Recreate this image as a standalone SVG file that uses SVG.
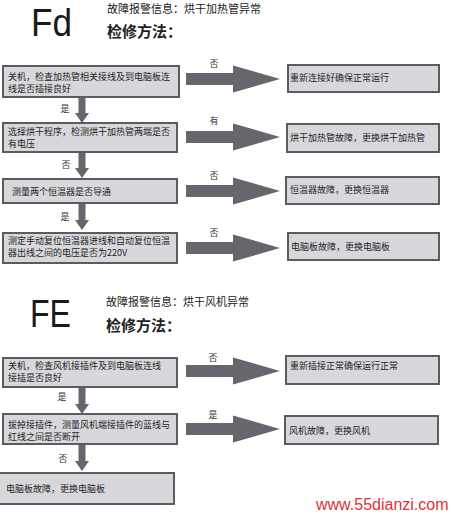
<svg xmlns="http://www.w3.org/2000/svg" width="452" height="516" viewBox="0 0 452 516">
<style>
.box{fill:#d8d8dc;stroke:#5c5c60;stroke-width:2}
.t{font-family:"Noto Sans CJK SC","Liberation Sans",sans-serif;font-size:9px;fill:#1e1e1e}
.lbl{font-family:"Noto Sans CJK SC","Liberation Sans",sans-serif;font-size:9px;fill:#333;text-anchor:middle}
.big{font-family:"Liberation Sans",Arial,sans-serif;font-size:39px;fill:#1a1a1a}
.h1{font-family:"Noto Sans CJK SC",sans-serif;font-size:11px;fill:#222}
.h2{font-family:"Noto Sans CJK SC",sans-serif;font-size:15px;font-weight:bold;fill:#222}
.arr{fill:#65676d}
.wm{font-family:"Liberation Sans",Arial,sans-serif;font-size:16px;fill:#e03232}
</style>
<defs>
<path id="ra" d="M0,-6 H47 V-13.5 L94,0 L47,13.5 V6 H0 Z"/>
<path id="da" d="M-3.5,0 H3.5 V16 H7 L0,26 L-7,16 H-3.5 Z"/>
</defs>

<g id="fd-title">
<text class="big" x="31" y="36" textLength="41" lengthAdjust="spacingAndGlyphs">Fd</text>
<text class="h1" x="107" y="13">故障报警信息：烘干加热管异常</text>
<text class="h2" x="107" y="37">检修方法：</text>
</g>

<g id="connectors">
<use href="#ra" class="arr" x="186" y="79"/>
<use href="#ra" class="arr" x="186" y="137"/>
<use href="#ra" class="arr" x="186" y="191"/>
<use href="#ra" class="arr" x="186" y="248"/>
<use href="#ra" class="arr" x="186" y="371"/>
<use href="#ra" class="arr" x="186" y="429"/>
<use href="#da" class="arr" x="82" y="97"/>
<use href="#da" class="arr" x="82" y="152"/>
<use href="#da" class="arr" x="82" y="204"/>
<use href="#da" class="arr" x="82" y="388"/>
<use href="#da" class="arr" x="82" y="445"/>
<text class="lbl" x="214" y="67">否</text>
<text class="lbl" x="214" y="124">有</text>
<text class="lbl" x="214" y="179">否</text>
<text class="lbl" x="214" y="236">否</text>
<text class="lbl" x="213" y="361">否</text>
<text class="lbl" x="213" y="418">是</text>
<text class="lbl" x="65" y="112">是</text>
<text class="lbl" x="66" y="168">否</text>
<text class="lbl" x="65" y="220">是</text>
<text class="lbl" x="62" y="400">是</text>
<text class="lbl" x="63" y="462">否</text>
</g>

<g id="fd-b1"><rect class="box" x="3" y="66" width="176" height="31"/>
<text class="t" x="8" y="80">关机，检查加热管相关接线及到电脑板连</text>
<text class="t" x="8" y="92">线是否插接良好</text></g>
<g id="fd-r1"><rect class="box" x="288" y="65" width="151" height="27"/>
<text class="t" x="290" y="81">重新连接好确保正常运行</text></g>

<g id="fd-b2"><rect class="box" x="3" y="123" width="174" height="29"/>
<text class="t" x="8" y="135">选择烘干程序，检测烘干加热管两端是否</text>
<text class="t" x="8" y="147">有电压</text></g>
<g id="fd-r2"><rect class="box" x="287" y="124" width="152" height="28"/>
<text class="t" x="290" y="141">烘干加热管故障，更换烘干加热管</text></g>

<g id="fd-b3"><rect class="box" x="3" y="179" width="174" height="24"/>
<text class="t" x="12" y="195">测量两个恒温器是否导通</text></g>
<g id="fd-r3"><rect class="box" x="286" y="177" width="153" height="27"/>
<text class="t" x="290" y="193">恒温器故障，更换恒温器</text></g>

<g id="fd-b4"><rect class="box" x="3" y="233" width="174" height="30"/>
<text class="t" x="8" y="244">测定手动复位恒温器进线和自动复位恒温</text>
<text class="t" x="8" y="256">器出线之间的电压是否为220V</text></g>
<g id="fd-r4"><rect class="box" x="288" y="233" width="151" height="27"/>
<text class="t" x="291" y="250">电脑板故障，更换电脑板</text></g>

<g id="fe-title">
<text class="big" x="30" y="327" textLength="41" lengthAdjust="spacingAndGlyphs">FE</text>
<text class="h1" x="106" y="306">故障报警信息：烘干风机异常</text>
<text class="h2" x="106" y="331">检修方法：</text>
</g>

<g id="fe-b1"><rect class="box" x="3" y="358" width="174" height="29"/>
<text class="t" x="8" y="369">关机，检查风机接插件及到电脑板连线</text>
<text class="t" x="8" y="381">接插是否良好</text></g>
<g id="fe-r1"><rect class="box" x="286" y="356" width="153" height="28"/>
<text class="t" x="290" y="369">重新插接正常确保运行正常</text></g>

<g id="fe-b2"><rect class="box" x="3" y="414" width="174" height="30"/>
<text class="t" x="8" y="428">拔掉接插件，测量风机端接插件的蓝线与</text>
<text class="t" x="8" y="440">红线之间是否断开</text></g>
<g id="fe-r2"><rect class="box" x="285" y="416" width="153" height="28"/>
<text class="t" x="289" y="434">风机故障，更换风机</text></g>

<g id="fe-b3"><rect class="box" x="-2" y="473" width="176" height="31"/>
<text class="t" x="6" y="492">电脑板故障，更换电脑板</text></g>

<text class="wm" x="316" y="510">www.55dianzi.com</text>
</svg>
